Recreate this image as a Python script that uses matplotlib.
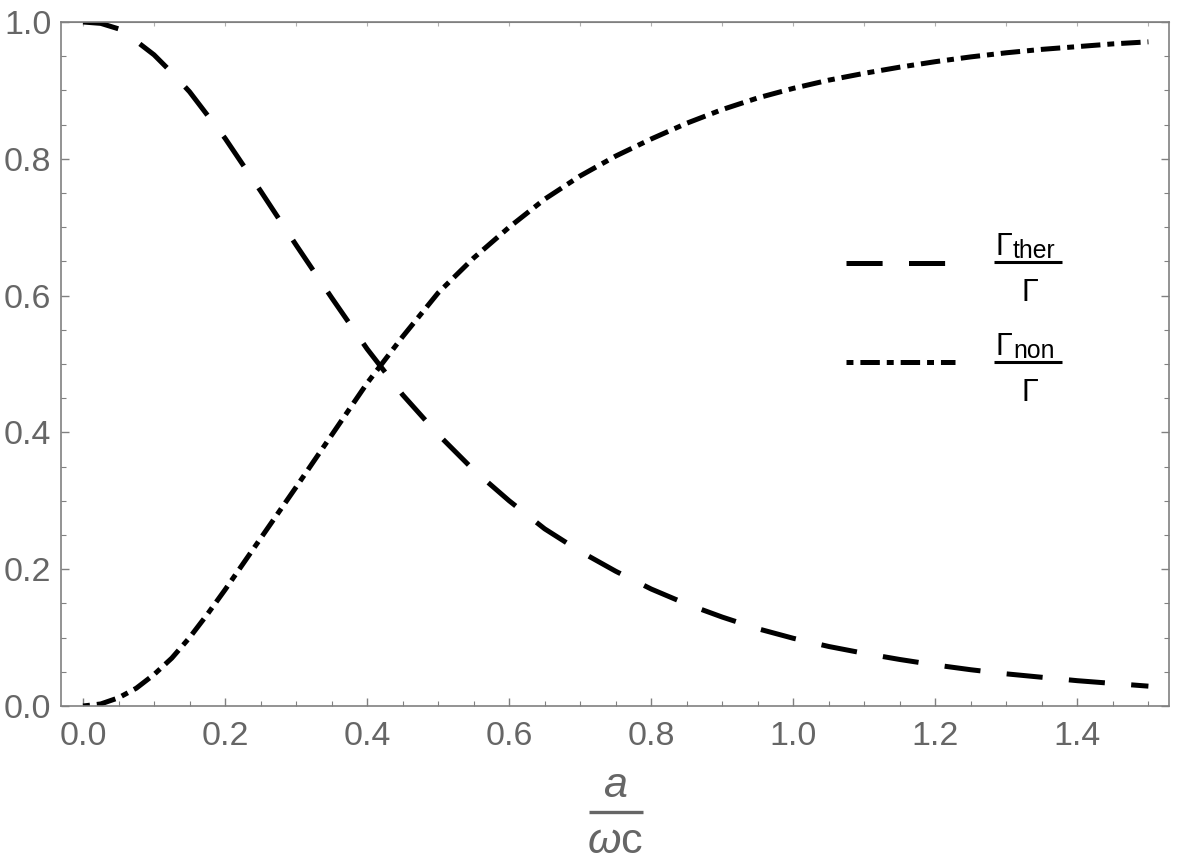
import matplotlib
matplotlib.use("Agg")
import matplotlib.pyplot as plt
from matplotlib.ticker import MultipleLocator, FormatStrFormatter
from matplotlib.lines import Line2D

plt.rcParams['font.family'] = ['Liberation Sans', 'DejaVu Sans']
plt.rcParams['mathtext.fontset'] = 'custom'
plt.rcParams['mathtext.rm'] = 'Liberation Sans'
plt.rcParams['mathtext.it'] = 'Liberation Sans:italic'
plt.rcParams['mathtext.bf'] = 'Liberation Sans:bold'
plt.rcParams['lines.scale_dashes'] = False

# ---- data ----
x_vals = [0.000, 0.025, 0.050, 0.075, 0.100, 0.125, 0.150, 0.175, 0.200, 0.250,
          0.300, 0.350, 0.400, 0.450, 0.500, 0.550, 0.600, 0.650, 0.700, 0.750,
          0.800, 0.850, 0.900, 0.950, 1.000, 1.050, 1.100, 1.150, 1.200, 1.250,
          1.300, 1.350, 1.400, 1.450, 1.500]
gamma_ther = [1.000, 0.998, 0.990, 0.972, 0.952, 0.926, 0.898, 0.864, 0.830, 0.753,
              0.674, 0.597, 0.522, 0.455, 0.397, 0.345, 0.300, 0.259, 0.226, 0.197,
              0.171, 0.149, 0.130, 0.113, 0.099, 0.087, 0.077, 0.068, 0.060, 0.053,
              0.047, 0.042, 0.037, 0.033, 0.029]
gamma_non = [0.000, 0.003, 0.012, 0.026, 0.046, 0.070, 0.100, 0.134, 0.170, 0.245,
             0.320, 0.396, 0.472, 0.540, 0.604, 0.655, 0.700, 0.741, 0.775, 0.804,
             0.829, 0.852, 0.872, 0.889, 0.903, 0.915, 0.925, 0.934, 0.942, 0.949,
             0.955, 0.960, 0.964, 0.968, 0.971]
sub_ther = 'ther'
sub_non = 'non'
gamma_sym = '\u0393'
xlab_num = 'a'
xlab_den = r'$\omega\mathrm{c}$'

W, H, DPI = 1184, 861, 100
fig = plt.figure(figsize=(W / DPI, H / DPI), dpi=DPI)
ax = fig.add_axes([61 / W, 1 - 706 / H, (1169 - 61) / W, (706 - 22) / H])

lw = 3.6
ax.plot(x_vals, gamma_ther, color='black', lw=lw, linestyle=(0, (26, 19)),
        dash_capstyle='butt', label=' ')
ax.plot(x_vals, gamma_non, color='black', lw=lw, linestyle=(0, (5, 5, 14, 5)),
        dash_capstyle='butt', label=' ')

ax.set_xlim(-0.031, 1.529)
ax.set_ylim(0, 1.0)

gray = '#808080'
label_gray = '#666666'
for s in ax.spines.values():
    s.set_color(gray)
    s.set_linewidth(1.2)

ax.xaxis.set_major_locator(MultipleLocator(0.2))
ax.xaxis.set_minor_locator(MultipleLocator(0.05))
ax.yaxis.set_major_locator(MultipleLocator(0.2))
ax.yaxis.set_minor_locator(MultipleLocator(0.05))
ax.xaxis.set_major_formatter(FormatStrFormatter('%.1f'))
ax.yaxis.set_major_formatter(FormatStrFormatter('%.1f'))
ax.tick_params(which='major', direction='in', length=6, width=1.0, color=gray,
               labelsize=24.5, labelcolor=label_gray, right=True)
ax.tick_params(which='minor', direction='in', length=3.5, width=0.8, color=gray, right=True)
ax.tick_params(axis='x', which='major', pad=11)
ax.tick_params(axis='y', which='major', pad=7)

top = ax.secondary_xaxis('top')
top.xaxis.set_major_locator(MultipleLocator(0.1))
top.tick_params(direction='in', length=3, width=0.8, color='#b0b0b0', labeltop=False)
top.spines['top'].set_color(gray)

# legend handles
leg = ax.legend(loc='center left', bbox_to_anchor=(0.7085, 0.5716), frameon=False,
                fontsize=17, handlelength=4.6, handletextpad=1.6, labelspacing=3.25,
                borderpad=0, borderaxespad=0)


def ax_y(py):
    return (706 - py) / 684


def ax_x(px):
    return (px - 61) / 1108


def legend_frac(bar_py, sub):
    tr = ax.transAxes
    ax.text(ax_x(995), ax_y(bar_py - 6.5), gamma_sym, ha='left', va='baseline',
            fontsize=22, color='black', transform=tr)
    ax.text(ax_x(1013), ax_y(bar_py - 3.4), sub, ha='left', va='baseline',
            fontsize=17.8, color='black', transform=tr)
    ax.text(ax_x(1029.5), ax_y(bar_py + 39), gamma_sym, ha='center', va='baseline',
            fontsize=22, color='black', transform=tr)
    ax.add_artist(Line2D([ax_x(994), ax_x(1062)], [ax_y(bar_py), ax_y(bar_py)],
                         transform=tr, color='black', lw=2.2, solid_capstyle='butt'))


legend_frac(261.7, sub_ther)
legend_frac(361.7, sub_non)

# x-axis label as a fraction (figure coords)
fig.text(615 / W, 1 - 797 / H, xlab_num, ha='center', va='baseline', fontsize=31,
         color=label_gray, fontstyle='italic')
fig.text(615 / W, 1 - 853 / H, xlab_den, ha='center', va='baseline', fontsize=31,
         color=label_gray)
fig.add_artist(Line2D([589 / W, 643 / W], [1 - 812 / H, 1 - 812 / H],
                      transform=fig.transFigure, color=label_gray, lw=2.4,
                      solid_capstyle='butt'))

fig.savefig('out.png', dpi=DPI)
